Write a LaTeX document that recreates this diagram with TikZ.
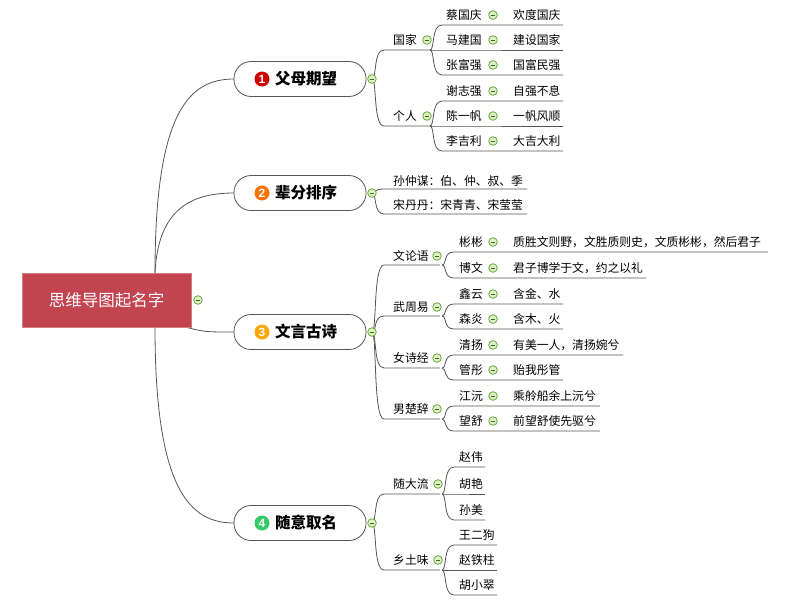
\documentclass[tikz,border=0pt]{standalone}
\usepackage{fontspec}
\setmainfont{Noto Sans CJK SC}
\newfontfamily\numf{Liberation Sans}
\definecolor{rootc}{HTML}{C2444F}
\definecolor{lnc}{HTML}{555555}
\definecolor{mgreen}{HTML}{6AAA3A}
\definecolor{mfill}{HTML}{DDF0C8}
\tikzset{ln/.style={draw=lnc,line width=0.8pt},
 mbox/.style={draw=mgreen,fill=mfill,line width=0.8pt},
 txt/.style={anchor=west,inner sep=0pt,font=\fontsize{11.8}{12}\selectfont},
 pill/.style={draw=lnc,line width=0.8pt,fill=white,rounded corners=17pt,minimum width=132pt,minimum height=35pt,inner sep=0pt}}
\newcommand\mnus[2]{\draw[mbox] (#1,#2) circle (4.3);\draw[mgreen!60!black,line width=0.8pt] (#1-2.3,#2)--(#1+2.3,#2);}
\newcommand\conn[4]{\draw[ln] (#1,#2) .. controls (#1+5,#2) and (#1+1,#4) .. (#1+12,#4) -- (#3,#4);}
\newcommand\leaf[7]{\conn{#1}{#2}{#7}{#3+10}\node[txt] at (#4,#3) {#5};\node[txt] at (513,#3) {#6};\mnus{493}{#3}}
\newcommand\leafb[6]{\conn{#1}{#2}{#6}{#3+10}\node[txt] at (#4,#3) {#5};}
\newcommand\badge[3]{\fill[#1] (262,#2) circle (7.5);\node[text=white,inner sep=0pt,font=\numf\bfseries\fontsize{12}{12}\selectfont] at (262,#2) {#3};}
\begin{document}
\begin{tikzpicture}[x=1pt,y=-1pt]
\useasboundingbox (0,0) rectangle (800,600);
\draw[ln] (155,273) .. controls (155,110) and (190,79) .. (234,79);
\draw[ln] (155,273) .. controls (158,210) and (190,193) .. (234,193);
\draw[ln] (185,327) .. controls (205,332) .. (234,332);
\draw[ln] (155,327) .. controls (155,490) and (190,523) .. (234,523);
\node[fill=rootc,draw=rootc!70!white,minimum width=169pt,minimum height=54pt,text=white,font=\fontsize{16.5}{17}\selectfont] (root) at (106.5,300) {思维导图起名字};
\mnus{198}{300}
\conn{372}{79}{432}{50}\node[txt] at (393,40) {国家};\mnus{427}{40}
\conn{372}{79}{432}{126}\node[txt] at (393,116) {个人};\mnus{427}{116}
\leaf{430}{50}{15}{446}{蔡国庆}{欢度国庆}{563}
\leaf{430}{50}{40}{446}{马建国}{建设国家}{563}
\leaf{430}{50}{65}{446}{张富强}{国富民强}{563}
\leaf{430}{126}{91}{446}{谢志强}{自强不息}{563}
\leaf{430}{126}{116}{446}{陈一帆}{一帆风顺}{563}
\leaf{430}{126}{141}{446}{李吉利}{大吉大利}{563}
\conn{372}{193}{527}{189}\node[txt] at (393,181) {孙仲谋：伯、仲、叔、季};
\conn{372}{193}{527}{214}\node[txt] at (393,205) {宋丹丹：宋青青、宋莹莹};
\conn{372}{332}{440}{265}\node[txt] at (393,256) {文论语};\mnus{437}{256}
\conn{372}{332}{440}{316}\node[txt] at (393,307) {武周易};\mnus{437}{307}
\conn{372}{332}{440}{368}\node[txt] at (393,358) {女诗经};\mnus{437}{358}
\conn{372}{332}{440}{419}\node[txt] at (393,409) {男楚辞};\mnus{437}{409}
\leaf{442}{265}{242}{459}{彬彬}{质胜文则野，文胜质则史，文质彬彬，然后君子}{768}
\leaf{442}{265}{268}{459}{博文}{君子博学于文，约之以礼}{646}
\leaf{442}{316}{294}{459}{鑫云}{含金、水}{563}
\leaf{442}{316}{319}{459}{森炎}{含木、火}{563}
\leaf{442}{368}{345}{459}{清扬}{有美一人，清扬婉兮}{623}
\leaf{442}{368}{370}{459}{管彤}{贻我彤管}{563}
\leaf{442}{419}{396}{459}{江沅}{乘舲船余上沅兮}{600}
\leaf{442}{419}{421}{459}{望舒}{前望舒使先驱兮}{600}
\conn{372}{523}{440}{494}\node[txt] at (393,484) {随大流};\mnus{438}{484}
\conn{372}{523}{440}{570}\node[txt] at (393,560) {乡土味};\mnus{438}{560}
\leafb{442}{494}{457}{459}{赵伟}{485}
\leafb{442}{494}{484}{459}{胡艳}{485}
\leafb{442}{494}{510}{459}{孙美}{485}
\leafb{442}{570}{535}{459}{王二狗}{497}
\leafb{442}{570}{560}{459}{赵铁柱}{497}
\leafb{442}{570}{585}{459}{胡小翠}{497}
\foreach \y/\c/\n/\t in {79/red!80!black/1/父母期望,193/orange!90!red/2/辈分排序,332/orange!70!yellow/3/文言古诗,523/green!50!teal!80/4/随意取名}{
 \node[pill] (p\n) at (300,\y) {};
 \badge{\c}{\y}{\n}
 \node[anchor=west,inner sep=0pt,font=\bfseries\fontsize{15.5}{16}\selectfont] at (275,\y) {\t};
 \mnus{372}{\y}}
\end{tikzpicture}
\end{document}
